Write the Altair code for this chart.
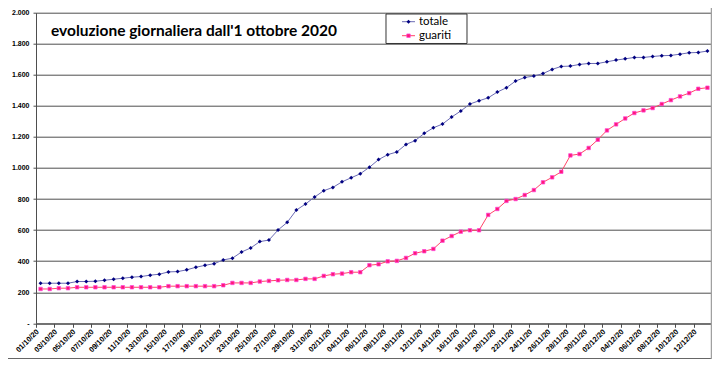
import altair as alt
import pandas as pd

start_date = "2020-10-01"
series_names = ["totale", "guariti"]
totale = [258, 258, 258, 258, 269, 269, 271, 277, 284, 290,
          297, 301, 310, 316, 331, 333, 344, 361, 373, 384,
          408, 419, 459, 485, 526, 536, 601, 650, 729, 768,
          813, 854, 875, 911, 937, 963, 1005, 1054, 1086, 1103,
          1152, 1176, 1223, 1259, 1283, 1328, 1367, 1412, 1433, 1452,
          1489, 1517, 1560, 1583, 1592, 1608, 1635, 1654, 1656, 1667,
          1673, 1673, 1684, 1695, 1703, 1712, 1712, 1718, 1723, 1725,
          1733, 1742, 1744, 1753]
guariti = [221, 221, 226, 226, 232, 232, 232, 232, 232, 232,
           232, 232, 232, 232, 239, 239, 239, 239, 239, 239,
           245, 260, 260, 260, 269, 273, 277, 279, 279, 286,
           286, 305, 316, 320, 329, 329, 374, 380, 399, 402,
           421, 451, 464, 479, 532, 562, 590, 599, 599, 698,
           736, 788, 800, 826, 858, 908, 940, 976, 1081, 1090,
           1129, 1182, 1242, 1281, 1319, 1354, 1371, 1386, 1412, 1437,
           1461, 1482, 1510, 1517]
y_ticks = [0, 200, 400, 600, 800, 1000, 1200, 1400, 1600, 1800, 2000]
title_text = "evoluzione giornaliera dall'1 ottobre 2020"

n = len(totale)
dates = pd.date_range(start_date, periods=n).strftime("%d/%m/%y").tolist()
df = pd.DataFrame({"i": list(range(n)), "data": dates, "totale": totale, "guariti": guariti})
one = pd.DataFrame({"k": [0]})

W, H = 676, 310.6
GRID = "#4d4d4d"
NAVY = "#000080"
NAVY_LINE = "#6a6ab4"
RED_LINE = "#ff4466"
MAG = "#ff1a75"

date_arr = "[" + ",".join("'" + d + "'" for d in dates) + "]"

x_scale = alt.Scale(domain=[-0.5, n - 0.5], nice=False, zero=False)
y_scale = alt.Scale(domain=[0, 2000], nice=False, zero=True)

tick_axis = alt.Axis(orient="bottom", values=[k - 0.5 for k in range(0, n + 1, 2)],
                     labels=False, ticks=True, tickSize=4, tickColor=GRID,
                     domain=True, domainColor=GRID, domainWidth=1, grid=False, title=None)
label_axis = alt.Axis(orient="bottom", values=list(range(0, n, 2)),
                      labelExpr=date_arr + "[datum.value]",
                      labelAngle=-45, labelAlign="right", labelBaseline="middle",
                      labelFont="Liberation Sans", labelFontSize=7.5, labelFontWeight="bold",
                      labelColor="#000", labelPadding=7, labelOffset=-3,
                      ticks=False, domain=False, grid=False, title=None, labelOverlap=False)
y_axis = alt.Axis(orient="left", values=y_ticks,
                  labelExpr="datum.value == 0 ? '-' : replace(format(datum.value, ','), ',', '.')",
                  labelFont="Liberation Sans", labelFontSize=7, labelFontWeight="bold",
                  labelColor="#000", labelPadding=4, tickSize=3, tickColor=GRID,
                  domain=True, domainColor=GRID, grid=True, gridColor=GRID,
                  gridWidth=1, title=None)

base = alt.Chart(df)

tot_line = base.mark_line(color=NAVY_LINE, strokeWidth=1).encode(
    x=alt.X("i:Q", scale=x_scale, axis=tick_axis),
    y=alt.Y("totale:Q", scale=y_scale, axis=y_axis),
)
tot_pts = base.mark_point(shape="diamond", filled=True, size=16, color=NAVY, opacity=1).encode(
    x=alt.X("i:Q", scale=x_scale, axis=label_axis),
    y=alt.Y("totale:Q", scale=y_scale, axis=None),
)
gua_line = base.mark_line(color=RED_LINE, strokeWidth=1).encode(
    x=alt.X("i:Q", scale=x_scale, axis=None),
    y=alt.Y("guariti:Q", scale=y_scale, axis=None),
)
gua_pts = base.mark_square(size=12, color=MAG, stroke="#ff44dd", strokeWidth=0.7, opacity=1).encode(
    x=alt.X("i:Q", scale=x_scale, axis=None),
    y=alt.Y("guariti:Q", scale=y_scale, axis=None),
)

sm = alt.Chart(one)
title = sm.mark_text(text=title_text, align="left", baseline="alphabetic",
                     font="Lato", fontSize=15.5, fontWeight="bold", color="#000").encode(
    x=alt.value(15), y=alt.value(23.3))

LEG_Y1, LEG_Y2 = 9, 23
leg_box = sm.mark_rect(fill="white", stroke="#333", strokeWidth=1).encode(
    x=alt.value(350), x2=alt.value(431), y=alt.value(1.3), y2=alt.value(30.8))
leg_l1 = sm.mark_rule(color=NAVY_LINE, strokeWidth=1).encode(
    x=alt.value(366), x2=alt.value(379), y=alt.value(LEG_Y1))
leg_p1 = sm.mark_point(shape="diamond", filled=True, size=16, color=NAVY, opacity=1).encode(
    x=alt.value(372.5), y=alt.value(LEG_Y1))
leg_t1 = sm.mark_text(text=series_names[0], align="left", baseline="middle",
                      font="Lato", fontSize=11.5, color="#000").encode(
    x=alt.value(383), y=alt.value(LEG_Y1))
leg_l2 = sm.mark_rule(color=RED_LINE, strokeWidth=1).encode(
    x=alt.value(366), x2=alt.value(379), y=alt.value(LEG_Y2))
leg_p2 = sm.mark_square(size=12, color=MAG, stroke="#ff44dd", strokeWidth=0.7, opacity=1).encode(
    x=alt.value(372.5), y=alt.value(LEG_Y2))
leg_t2 = sm.mark_text(text=series_names[1], align="left", baseline="middle",
                      font="Lato", fontSize=11.5, color="#000").encode(
    x=alt.value(383), y=alt.value(LEG_Y2))

bottom_border = sm.mark_rule(color="#333", strokeWidth=1.5).encode(
    x=alt.value(-28), x2=alt.value(676), y=alt.value(346.3))
right_border = sm.mark_rule(color="#a0a0a0", strokeWidth=1.5).encode(
    x=alt.value(675.5), y=alt.value(-4.7), y2=alt.value(346.3))

chart = alt.layer(
    tot_line, tot_pts, gua_line, gua_pts,
    title, leg_box, leg_l1, leg_p1, leg_t1, leg_l2, leg_p2, leg_t2,
    bottom_border, right_border,
).resolve_axis(x="independent", y="independent").properties(
    width=W, height=H,
    autosize=alt.AutoSizeParams(type="none"),
    padding={"left": 28, "top": 4.7, "right": 0, "bottom": 36},
    background="white",
).configure_view(stroke=None)

chart.save("out.html", embed_options={"renderer": "svg", "actions": False})
